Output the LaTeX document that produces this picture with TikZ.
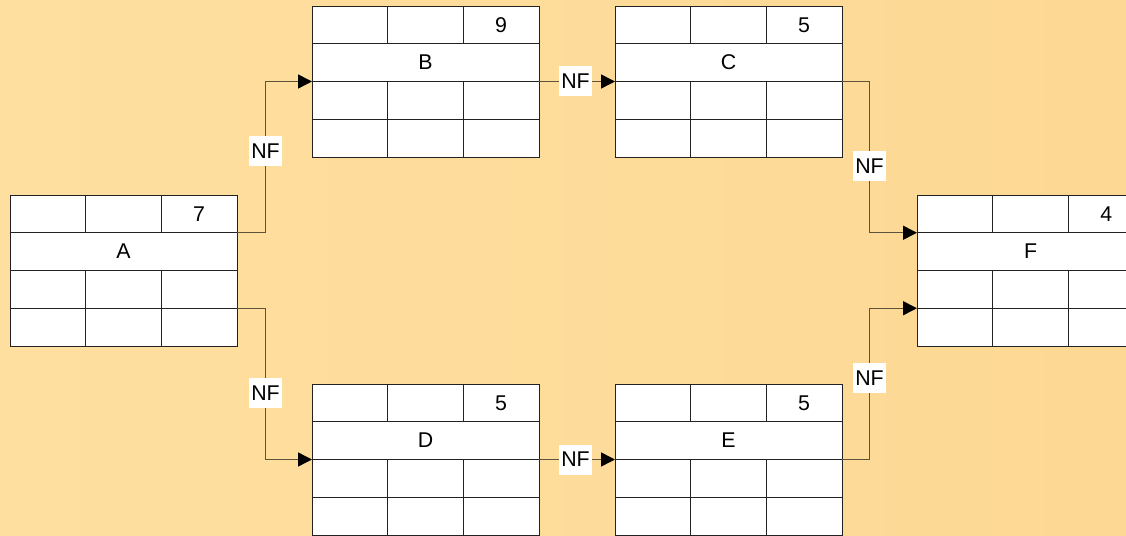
\documentclass[tikz,border=0pt]{standalone}
\usepackage{fontspec}
\setmainfont{Liberation Sans}
\usetikzlibrary{arrows.meta, positioning, calc}
\definecolor{bgleft}{RGB}{254,223,160}
\definecolor{bgright}{RGB}{253,216,148}
\definecolor{linkcolor}{RGB}{95,82,60}
\definecolor{cellborder}{RGB}{34,34,34}
\tikzset{
  cellrow/.style={draw=cellborder, fill=white, minimum width=170.25pt, minimum height=28.31pt, inner sep=0pt, outer sep=0pt, line width=0.65pt, font=\fontsize{16}{19}\selectfont},
  cellline/.style={draw=cellborder, line width=0.65pt},
  celltext/.style={font=\fontsize{16}{19}\selectfont, inner sep=0pt},
  link/.style={-{Triangle[length=10.5pt, width=10.5pt, color=black]}, line width=1.1pt, color=linkcolor},
  nflabel/.style={fill=white, text=black, font=\fontsize{16}{19}\selectfont, minimum width=24.75pt, minimum height=22.5pt, inner sep=0pt},
}
% one activity box: name, top-left corner, label, duration
\newcommand{\actbox}[4]{%
  \node[cellrow, anchor=north west] (#1-r1) at (#2) {};
  \node[cellrow, below=0pt of #1-r1] (#1-r2) {#3};
  \node[cellrow, below=0pt of #1-r2] (#1-r3) {};
  \node[cellrow, below=0pt of #1-r3] (#1-r4) {};
  \foreach \rw in {1,3,4} {
    \foreach \fr in {1/3,2/3} {
      \draw[cellline] ($(#1-r\rw.north west)!\fr!(#1-r\rw.north east)$) -- ($(#1-r\rw.south west)!\fr!(#1-r\rw.south east)$);
    }
  }
  \node[celltext] (#1-dur) at ($(#1-r1.west)!5/6!(#1-r1.east)$) {#4};
}

\begin{document}
\begin{tikzpicture}[x=0.75pt, y=-0.75pt]

  % --- Background ---
  \clip (0,0) rectangle (1126,535);
  \shade[left color=bgleft, right color=bgright] (0,0) rectangle (1126,535);

  % --- Activities ---
  \actbox{A}{10,195}{A}{7}
  \actbox{B}{312,6}{B}{9}
  \actbox{C}{615,6}{C}{5}
  \actbox{D}{312,384}{D}{5}
  \actbox{E}{615,384}{E}{5}
  \actbox{F}{917,195}{F}{4}

  % --- Links ---
  \draw[link] (A-r1.south east) -- ++(28.5,0) |- node[nflabel, pos=0.27] {NF} (B-r2.south west);
  \draw[link] (A-r3.south east) -- ++(28.5,0) |- node[nflabel, pos=0.28] {NF} (D-r2.south west);
  \draw[link] (B-r2.south east) -- node[nflabel, pos=0.48] {NF} (C-r2.south west);
  \draw[link] (D-r2.south east) -- node[nflabel, pos=0.48] {NF} (E-r2.south west);
  \draw[link] (C-r2.south east) -- ++(27.5,0) |- node[nflabel, pos=0.28] {NF} (F-r1.south west);
  \draw[link] (E-r2.south east) -- ++(27.5,0) |- node[nflabel, pos=0.27] {NF} (F-r3.south west);

\end{tikzpicture}
\end{document}
